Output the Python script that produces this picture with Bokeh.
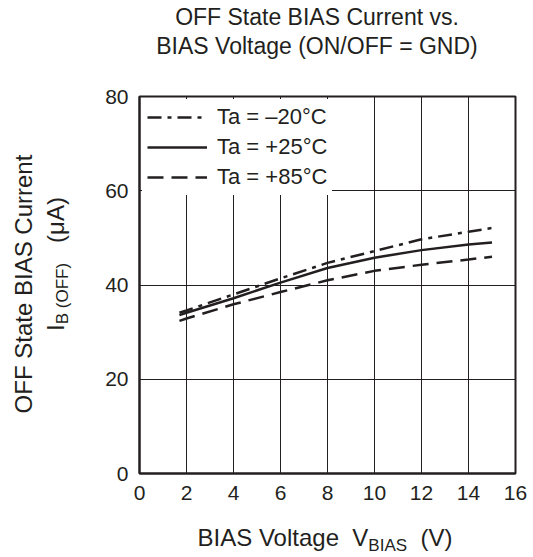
from bokeh.plotting import figure
from bokeh.models import Legend, LegendItem, FixedTicker, Range1d, Div
from bokeh.layouts import column, row
from bokeh.embed import file_html
from bokeh.resources import INLINE

# ---- data ----
bias_voltage = [1.7, 2, 4, 6, 8, 10, 12, 14, 15]
current_m20 = [34.1, 34.6, 38.0, 41.4, 44.7, 47.2, 49.7, 51.3, 52.1]
current_p25 = [33.6, 34.1, 37.2, 40.5, 43.6, 45.8, 47.4, 48.6, 49.0]
current_p85 = [32.4, 32.9, 35.9, 38.5, 41.0, 43.0, 44.3, 45.4, 46.0]
series_labels = ["Ta = \u201320\u00b0C", "Ta = +25\u00b0C", "Ta = +85\u00b0C"]
x_ticks = [0, 2, 4, 6, 8, 10, 12, 14, 16]
y_ticks = [0, 20, 40, 60, 80]
title_lines = ["OFF State BIAS Current vs.", "BIAS Voltage (ON/OFF = GND)"]

FONT = "Liberation Sans"
INK = "#231f20"

# frame position on the page (px)
FL, FR, FT, FB = 139, 515, 96, 473
FW, FH = FR - FL, FB - FT
TOP_H, LEFT_W = 76, 79
BR, BB = 16, 40
TOTAL_W = FR + BR
FIG_H = (FT - TOP_H) + FH + BB
BOTTOM_H = 40

p = figure(frame_width=FW, frame_height=FH, title=None,
           min_border_left=FL - LEFT_W, min_border_right=BR,
           min_border_top=FT - TOP_H, min_border_bottom=BB,
           x_range=Range1d(0, 16), y_range=Range1d(0, 80),
           output_backend="svg", toolbar_location=None)
p.background_fill_color = "white"
p.border_fill_color = "white"
p.outline_line_color = INK
p.outline_line_width = 2
p.outline_line_alpha = 1

for ax in (p.xaxis, p.yaxis):
    ax.major_tick_in = 0
    ax.major_tick_out = 0
    ax.minor_tick_in = 0
    ax.minor_tick_out = 0
    ax.axis_line_color = INK
    ax.axis_line_width = 2
    ax.major_label_text_font = FONT
    ax.major_label_text_font_size = "21px"
    ax.major_label_text_color = INK
p.xaxis.major_label_standoff = 12
p.yaxis.major_label_standoff = 11
p.xaxis.ticker = FixedTicker(ticks=x_ticks)
p.yaxis.ticker = FixedTicker(ticks=y_ticks)

p.xgrid.ticker = FixedTicker(ticks=x_ticks[1:-1])
p.ygrid.ticker = FixedTicker(ticks=y_ticks[1:-1])
for g in (p.xgrid, p.ygrid):
    g.grid_line_color = INK
    g.grid_line_width = 1
    g.grid_line_alpha = 1

r1 = p.line(bias_voltage, current_m20, line_color=INK, line_width=2.5, line_dash="14 6 4 6")
r2 = p.line(bias_voltage, current_p25, line_color=INK, line_width=2.5)
r3 = p.line(bias_voltage, current_p85, line_color=INK, line_width=2.5, line_dash="16 8")

legend = Legend(items=[LegendItem(label=series_labels[0], renderers=[r1]),
                       LegendItem(label=series_labels[1], renderers=[r2]),
                       LegendItem(label=series_labels[2], renderers=[r3])],
                location="top_left", margin=3, padding=5, spacing=4,
                label_height=20, glyph_height=20, glyph_width=60, label_standoff=10,
                label_text_font=FONT, label_text_font_size="22px", label_text_color=INK,
                border_line_alpha=0, background_fill_color="white", background_fill_alpha=1)
p.add_layout(legend, "center")


def box(children, w, h):
    return (f'<div style="position:relative;width:{w}px;height:{h}px;overflow:visible;'
            f'font-family:\'{FONT}\',Arial,sans-serif;color:{INK};">' + "".join(children) + "</div>")


def piece(html, left, top, size, transform=""):
    return (f'<div style="position:absolute;left:{left}px;top:{top}px;font-size:{size}px;'
            f'line-height:1;white-space:nowrap;transform:{transform};">{html}</div>')


def sub(html, size, drop):
    return f'<span style="font-size:{size}px;position:relative;top:{drop}px;">{html}</span>'


SP = "&nbsp;"

# title (page coordinates == div coordinates)
title_div = Div(text=box([
    piece(title_lines[0], 317, 6, 23, "translateX(-50%)"),
    piece(title_lines[1], 317, 35, 23, "translateX(-50%)"),
], TOTAL_W, TOP_H), width=TOTAL_W, height=TOP_H, margin=0)

# y-axis label (div starts at page y = TOP_H)
ylab_div = Div(text=box([
    piece("OFF State BIAS Current", 24, 284 - TOP_H, 24, "translate(-50%,-50%) rotate(-90deg)"),
    piece("I" + sub("B (OFF)", 17, 4) + SP * 3 + "(\u03bcA)", 56, 264 - TOP_H, 24,
          "translate(-50%,-50%) rotate(-90deg)"),
], LEFT_W, FIG_H), width=LEFT_W, height=FIG_H, margin=0)

# x-axis label (div starts at page y = TOP_H + FIG_H)
y0 = TOP_H + FIG_H
xlab_div = Div(text=box([
    piece("BIAS Voltage" + SP * 2 + "V" + sub("BIAS", 17, 5) + SP * 2 + "(V)", 325, 546 - 20 - y0, 24,
          "translateX(-50%)"),
], TOTAL_W, BOTTOM_H), width=TOTAL_W, height=BOTTOM_H, margin=0)

layout = column(title_div, row(ylab_div, p, spacing=0), xlab_div, spacing=0)

open("out.html", "w").write(file_html(layout, INLINE))
